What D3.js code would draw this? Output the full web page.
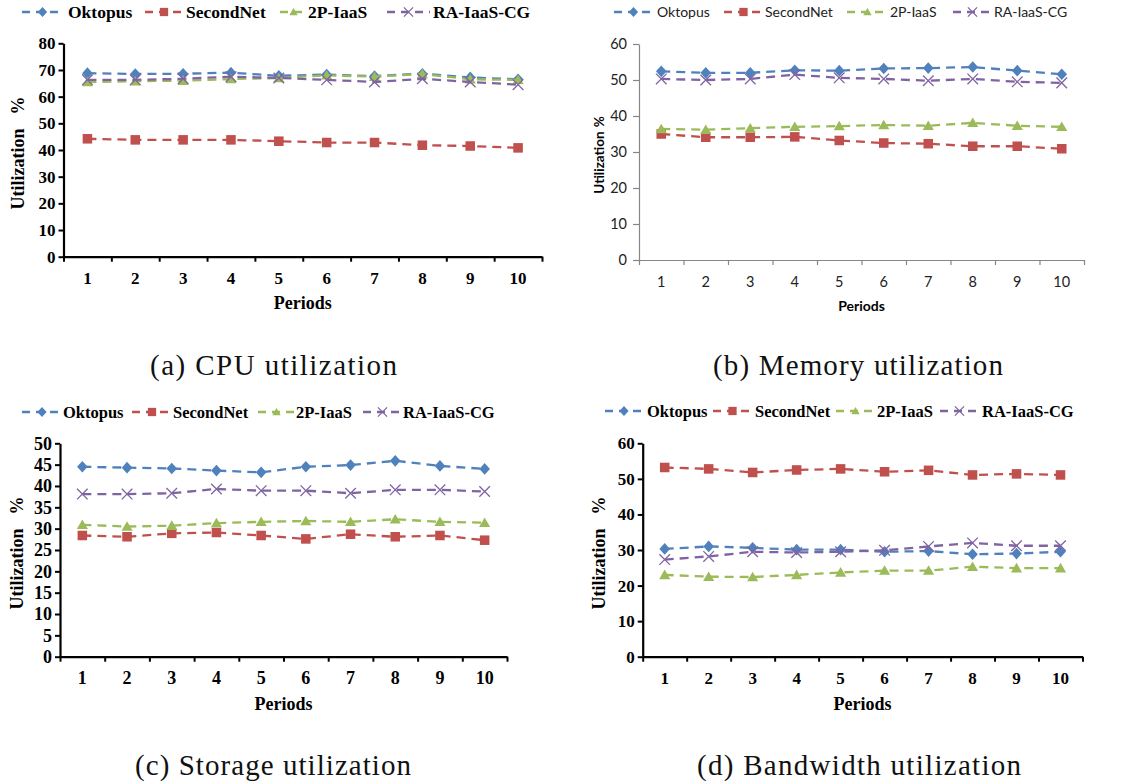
<!DOCTYPE html>
<html>
<head>
<meta charset="utf-8">
<script src="https://cdn.jsdelivr.net/npm/d3@7"></script>
<style>
  body { margin: 0; background: #fff; }
  svg { display: block; }
</style>
</head>
<body>
<div id="chart"></div>
<script>
// categories and series names
const periods = [1, 2, 3, 4, 5, 6, 7, 8, 9, 10];
const seriesNames = ["Oktopus", "SecondNet", "2P-IaaS", "RA-IaaS-CG"];

// (a) CPU utilization
const cpuOktopus   = [68.8, 68.5, 68.6, 69.0, 67.8, 68.3, 67.7, 68.6, 67.2, 66.5];
const cpuSecondNet = [44.2, 43.8, 43.8, 43.8, 43.3, 42.8, 42.8, 41.8, 41.5, 40.8];
const cpu2PIaaS    = [65.5, 65.8, 66.0, 66.6, 67.0, 68.0, 67.5, 68.5, 66.5, 66.3];
const cpuRAIaaSCG  = [66.3, 66.3, 66.7, 67.5, 67.0, 66.3, 65.5, 66.7, 65.5, 64.5];

// (b) Memory utilization
const memOktopus   = [52.4, 52.0, 52.0, 52.7, 52.6, 53.2, 53.3, 53.6, 52.6, 51.6];
const memSecondNet = [35.0, 34.1, 34.1, 34.2, 33.2, 32.5, 32.3, 31.6, 31.6, 30.9];
const mem2PIaaS    = [36.4, 36.2, 36.6, 37.0, 37.2, 37.5, 37.3, 38.1, 37.3, 37.0];
const memRAIaaSCG  = [50.3, 50.0, 50.3, 51.5, 50.6, 50.3, 49.8, 50.3, 49.5, 49.2];

// (c) Storage utilization
const stoOktopus   = [44.5, 44.3, 44.1, 43.6, 43.2, 44.5, 44.9, 45.9, 44.7, 44.0];
const stoSecondNet = [28.4, 28.1, 28.9, 29.1, 28.4, 27.6, 28.7, 28.1, 28.4, 27.3];
const sto2PIaaS    = [30.9, 30.5, 30.7, 31.3, 31.6, 31.8, 31.6, 32.2, 31.6, 31.4];
const stoRAIaaSCG  = [38.1, 38.1, 38.3, 39.3, 38.9, 38.9, 38.3, 39.1, 39.1, 38.7];

// (d) Bandwidth utilization
const bwOktopus   = [30.3, 31.0, 30.6, 30.1, 30.1, 29.5, 29.7, 28.8, 29.0, 29.5];
const bwSecondNet = [53.2, 52.8, 51.8, 52.5, 52.8, 52.0, 52.4, 51.1, 51.4, 51.1];
const bw2PIaaS    = [23.0, 22.5, 22.4, 23.0, 23.7, 24.2, 24.2, 25.3, 24.9, 24.9];
const bwRAIaaSCG  = [27.3, 28.2, 29.5, 29.3, 29.5, 29.9, 31.0, 32.0, 31.2, 31.2];

// y axis ticks
const cpuTicks = [0, 10, 20, 30, 40, 50, 60, 70, 80];
const memTicks = [0, 10, 20, 30, 40, 50, 60];
const stoTicks = [0, 5, 10, 15, 20, 25, 30, 35, 40, 45, 50];
const bwTicks  = [0, 10, 20, 30, 40, 50, 60];

const captions = ["(a) CPU utilization", "(b) Memory utilization", "(c) Storage utilization", "(d) Bandwidth utilization"];

// excel default colours
const colors = ["#4F81BD", "#C0504D", "#9BBB59", "#8064A2"];
const markerShapes = ["diamond", "square", "triangle", "cross"];

const svg = d3.select("#chart").append("svg")
    .attr("width", 1128)
    .attr("height", 784);

//panel layouts (positions only)
const panels = [
  { series: [cpuOktopus, cpuSecondNet, cpu2PIaaS, cpuRAIaaSCG], ticks: cpuTicks,
    left: 63.5, right: 542, top: 43.3, bottom: 256.7, serif: true,
    tickSize: 17, labelX: 18, xLabY: 278, periodsY: 303, legendY: 12,
    legend: [[22, 63, 68], [145, 183, 186], [280, 307, 308], [387, 430, 433]], legendSize: 17.5,
    caption: captions[0], capX: 273.5, capY: 375, capW: 247 },
  { series: [memOktopus, memSecondNet, mem2PIaaS, memRAIaaSCG], ticks: memTicks,
    left: 639, right: 1084, top: 44, bottom: 260, serif: false,
    tickSize: 14.5, labelX: 599, xLabY: 282, periodsY: 306, legendY: 12,
    legend: [[614, 653, 657], [724, 763, 765], [847, 888, 890], [953, 992, 994]], legendSize: 14,
    caption: captions[1], capX: 858, capY: 375, capW: 290 },
  { series: [stoOktopus, stoSecondNet, sto2PIaaS, stoRAIaaSCG], ticks: stoTicks,
    left: 60, right: 507, top: 443.3, bottom: 656.7, serif: true,
    tickSize: 18, labelX: 17, xLabY: 678, periodsY: 704, legendY: 412,
    legend: [[22, 62, 63], [132, 172, 173], [258, 295, 296], [363, 402, 403]], legendSize: 16.5,
    caption: captions[2], capX: 273, capY: 775, capW: 276 },
  { series: [bwOktopus, bwSecondNet, bw2PIaaS, bwRAIaaSCG], ticks: bwTicks,
    left: 642.7, right: 1082.5, top: 443.3, bottom: 656.7, serif: true,
    tickSize: 17, labelX: 599, xLabY: 678, periodsY: 704, legendY: 411,
    legend: [[605, 643, 647], [713, 752, 755], [836, 875, 877], [940, 979, 982]], legendSize: 16.5,
    caption: captions[3], capX: 859, capY: 775, capW: 324 }
];

//draws one marker at given position
function drawMarker(g, shape, color, x, y, r) {
  if (shape === "diamond") {
    g.append("path").attr("d", `M${x},${y - r * 1.1}L${x + r},${y}L${x},${y + r * 1.1}L${x - r},${y}Z`)
      .attr("fill", color);
  } else if (shape === "square") {
    g.append("rect").attr("x", x - r * 0.9).attr("y", y - r * 0.9)
      .attr("width", r * 1.8).attr("height", r * 1.8).attr("fill", color);
  } else if (shape === "triangle") {
    g.append("path").attr("d", `M${x},${y - r}L${x + r * 1.05},${y + r * 0.8}L${x - r * 1.05},${y + r * 0.8}Z`)
      .attr("fill", color);
  } else {
    g.append("path").attr("d", `M${x - r},${y - r}L${x + r},${y + r}M${x - r},${y + r}L${x + r},${y - r}`)
      .attr("stroke", color).attr("stroke-width", 1.3).attr("fill", "none");
  }
}

panels.forEach(function(p) {
  var fontFam = p.serif ? "'Liberation Serif', 'Times New Roman', serif" : "Lato, 'Liberation Sans', sans-serif";
  var axisColor = p.serif ? "#000" : "#868686";
  var g = svg.append("g");

  var x = d3.scaleBand().domain(periods).range([p.left, p.right]).paddingInner(0).paddingOuter(0);
  var xb = d3.scaleLinear().domain([0, periods.length]).range([p.left, p.right]);
  var y = d3.scaleLinear().domain([0, d3.max(p.ticks)]).range([p.bottom, p.top]);

  //y axis
  var yAxis = g.append("g")
      .attr("transform", `translate(${p.left},0)`)
      .call(d3.axisLeft(y).tickValues(p.ticks).tickSize(p.serif ? 5 : 6).tickPadding(p.serif ? 3 : 6).tickSizeOuter(0));
  yAxis.selectAll("text")
      .attr("font-family", fontFam)
      .attr("font-weight", p.serif ? "bold" : "normal")
      .attr("font-size", p.tickSize)
      .attr("fill", p.serif ? "#000" : "#222");

  //x axis ticks at category boundaries
  var xTickAxis = g.append("g")
      .attr("transform", `translate(0,${p.bottom})`)
      .call(d3.axisBottom(xb).tickValues(d3.range(0, periods.length + 1)).tickSize(5).tickFormat("").tickSizeOuter(0));

  //x axis labels
  var xLabAxis = g.append("g")
      .attr("transform", `translate(0,${p.bottom})`)
      .call(d3.axisBottom(x).tickSize(0).tickPadding(0));
  xLabAxis.select(".domain").remove();
  xLabAxis.selectAll("text")
      .attr("y", p.xLabY - p.bottom)
      .attr("dy", "0.35em")
      .attr("font-family", fontFam)
      .attr("font-weight", p.serif ? "bold" : "normal")
      .attr("font-size", p.tickSize)
      .attr("fill", p.serif ? "#000" : "#222");

  [yAxis, xTickAxis].forEach(function(a) {
    a.selectAll(".domain").attr("stroke", axisColor).attr("stroke-width", p.serif ? 2.2 : 1.2);
    a.selectAll(".tick line").attr("stroke", axisColor).attr("stroke-width", p.serif ? 2 : 1.2);
  });

  //axis titles
  g.append("text")
      .attr("x", (p.left + p.right) / 2)
      .attr("y", p.periodsY)
      .attr("dy", "0.35em")
      .attr("text-anchor", "middle")
      .attr("font-family", fontFam)
      .attr("font-weight", "bold")
      .attr("font-size", p.serif ? 18 : 14)
      .text("Periods");

  var yl = g.append("text")
      .attr("transform", `translate(${p.labelX},${(p.top + p.bottom) / 2 + 3}) rotate(-90)`)
      .attr("text-anchor", "middle")
      .attr("dy", "0.35em")
      .attr("font-family", fontFam)
      .attr("font-weight", "bold")
      .attr("font-size", p.serif ? 18 : 13.5);
  yl.append("tspan").text("Utilization");
  yl.append("tspan").attr("dx", p.serif ? 14 : 4).text("%");

  //lines and markers
  p.series.forEach(function(vals, si) {
    var line = d3.line()
        .x((d, i) => x(periods[i]) + x.bandwidth() / 2)
        .y(d => y(d));
    g.append("path")
        .datum(vals)
        .attr("d", line)
        .attr("fill", "none")
        .attr("stroke", colors[si])
        .attr("stroke-width", 2.3)
        .attr("stroke-dasharray", "9,6");
    vals.forEach(function(v, i) {
      drawMarker(g, markerShapes[si], colors[si], x(periods[i]) + x.bandwidth() / 2, y(v), 5.3);
    });
  });

  //legend
  p.legend.forEach(function(pos, si) {
    g.append("line")
        .attr("x1", pos[0]).attr("x2", pos[1])
        .attr("y1", p.legendY).attr("y2", p.legendY)
        .attr("stroke", colors[si])
        .attr("stroke-width", 2.3)
        .attr("stroke-dasharray", "8,6");
    drawMarker(g, markerShapes[si], colors[si], (pos[0] + pos[1]) / 2, p.legendY, si === 2 ? 4 : 4.6);
    g.append("text")
        .attr("x", pos[2])
        .attr("y", p.legendY)
        .attr("dy", "0.35em")
        .attr("font-family", fontFam)
        .attr("font-weight", p.serif ? "bold" : "normal")
        .attr("font-size", p.legendSize)
        .attr("fill", p.serif ? "#000" : "#222")
        .text(seriesNames[si]);
  });

  //caption below panel
  svg.append("text")
      .attr("x", p.capX)
      .attr("y", p.capY)
      .attr("text-anchor", "middle")
      .attr("font-family", "'Liberation Serif', serif")
      .attr("font-size", 29)
      .attr("textLength", p.capW)
      .attr("lengthAdjust", "spacing")
      .attr("fill", "#111")
      .text(p.caption);
});
</script>
</body>
</html>
